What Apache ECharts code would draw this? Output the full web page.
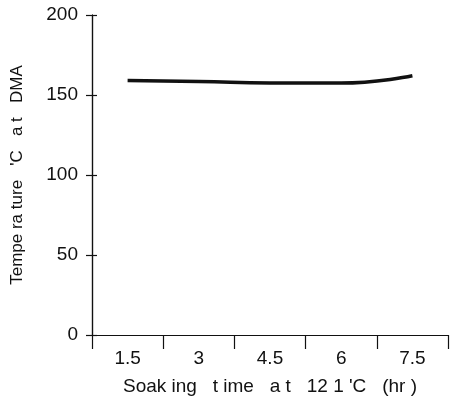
<!DOCTYPE html>
<html>
<head>
<meta charset="utf-8">
<script src="https://cdn.jsdelivr.net/npm/echarts@6/dist/echarts.min.js"></script>
<style>html,body{margin:0;padding:0;background:#fff}#c{width:450px;height:405px}</style>
</head>
<body>
<div id="c"></div>
<script>
var categories = ['1.5', '3', '4.5', '6', '7.5'];
var temperature = [159, 158.5, 157.5, 157.5, 162];
var yTicks = [0, 50, 100, 150, 200];
var xName = "Soak ing   t ime   a t   12 1 'C   (hr )";
var yName = "Tempe ra ture   'C   a t   DMA";

var font = 'Liberation Sans';
var chart = echarts.init(document.getElementById('c'), null, {renderer: 'canvas'});
var yBase = {
  type: 'value', min: yTicks[0], max: yTicks[yTicks.length - 1], interval: 50,
  splitLine: {show: false},
  axisLine: {show: true, lineStyle: {color: '#111', width: 1.2}}
};
chart.setOption({
  animation: false,
  backgroundColor: '#fff',
  grid: {left: 92, right: 2, top: 15, bottom: 70, containLabel: false},
  xAxis: {
    type: 'category', data: categories, boundaryGap: true,
    axisLine: {lineStyle: {color: '#111', width: 1.2}},
    axisTick: {show: true, length: 14, interval: 0, lineStyle: {color: '#111', width: 1.2}},
    axisLabel: {margin: 14, fontSize: 19, color: '#111', fontFamily: font},
    name: xName, nameLocation: 'middle', nameGap: 42,
    nameTextStyle: {fontSize: 19, color: '#111', fontFamily: font}
  },
  yAxis: [
    Object.assign({}, yBase, {
      axisTick: {show: true, length: 6, lineStyle: {color: '#111', width: 1.2}},
      axisLabel: {margin: 14, fontSize: 19, color: '#111', fontFamily: font},
      name: yName, nameLocation: 'middle', nameGap: 66,
      nameTextStyle: {fontSize: 17, color: '#111', fontFamily: font}
    }),
    Object.assign({}, yBase, {
      position: 'left',
      axisTick: {show: true, inside: true, length: 5, lineStyle: {color: '#111', width: 1.2}},
      axisLabel: {show: false}
    })
  ],
  series: [{
    type: 'line', data: temperature, smooth: true, symbol: 'none',
    lineStyle: {color: '#111', width: 3.5}
  }]
});
</script>
</body>
</html>
